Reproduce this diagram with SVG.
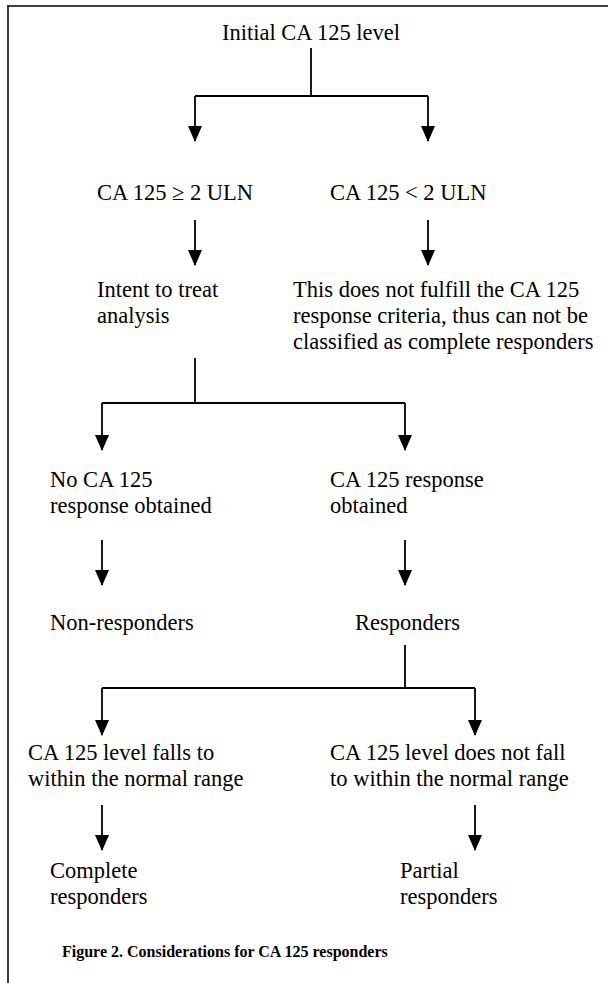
<svg xmlns="http://www.w3.org/2000/svg" width="608" height="983" viewBox="0 0 608 983">
<defs>
<style>
.t{font-family:"Liberation Serif","Times New Roman",serif;font-size:22.5px;fill:#000}
.cap{font-family:"Liberation Serif","Times New Roman",serif;font-size:16px;font-weight:bold;fill:#000}
.ln{stroke:#000;stroke-width:1.8;fill:none}
.ar{stroke:#000;stroke-width:1.8;fill:none;marker-end:url(#ah)}
</style>
<marker id="ah" viewBox="0 0 16 14" refX="15" refY="7" markerWidth="16" markerHeight="14" markerUnits="userSpaceOnUse" orient="auto">
<path d="M0,0 L16,7 L0,14 z" fill="#000"/>
</marker>
</defs>
<rect width="608" height="983" fill="#fff"/>
<g id="frame"><path d="M7,6 H608 M8,6 V983" stroke="#000" stroke-width="1.5" fill="none"/></g>
<g id="connectors">
<path class="ln" d="M311,48 V96 M195,96 H428"/>
<path class="ar" d="M195,96 V141"/>
<path class="ar" d="M428,96 V141"/>
<path class="ar" d="M195,220 V265"/>
<path class="ar" d="M428,220 V265"/>
<path class="ln" d="M195,358 V403 M102,403 H405"/>
<path class="ar" d="M102,403 V450"/>
<path class="ar" d="M405,403 V450"/>
<path class="ar" d="M102,540 V585"/>
<path class="ar" d="M405,540 V585"/>
<path class="ln" d="M405,645 V688 M102,688 H475"/>
<path class="ar" d="M102,688 V735"/>
<path class="ar" d="M475,688 V735"/>
<path class="ar" d="M102,805 V850"/>
<path class="ar" d="M475,805 V850"/>
</g>
<g id="n-initial"><text class="t" x="311" y="40" text-anchor="middle">Initial CA 125 level</text></g>
<g id="n-ge2"><text class="t" x="97" y="200">CA 125 ≥ 2 ULN</text></g>
<g id="n-lt2"><text class="t" x="330" y="200">CA 125 &lt; 2 ULN</text></g>
<g id="n-itt"><text class="t" x="97" y="297">Intent to treat</text><text class="t" x="97" y="323">analysis</text></g>
<g id="n-notfulfill"><text class="t" x="293" y="297">This does not fulfill the CA 125</text><text class="t" x="293" y="323">response criteria, thus can not be</text><text class="t" x="293" y="349">classified as complete responders</text></g>
<g id="n-noresp"><text class="t" x="50" y="487">No CA 125</text><text class="t" x="50" y="513">response obtained</text></g>
<g id="n-resp"><text class="t" x="330" y="487">CA 125 response</text><text class="t" x="330" y="513">obtained</text></g>
<g id="n-nonresponders"><text class="t" x="50" y="630">Non-responders</text></g>
<g id="n-responders"><text class="t" x="355" y="630">Responders</text></g>
<g id="n-falls"><text class="t" x="28" y="760">CA 125 level falls to</text><text class="t" x="28" y="786">within the normal range</text></g>
<g id="n-notfall"><text class="t" x="330" y="760">CA 125 level does not fall</text><text class="t" x="330" y="786">to within the normal range</text></g>
<g id="n-complete"><text class="t" x="50" y="878">Complete</text><text class="t" x="50" y="904">responders</text></g>
<g id="n-partial"><text class="t" x="400" y="878">Partial</text><text class="t" x="400" y="904">responders</text></g>
<g id="caption"><text class="cap" x="62" y="957">Figure 2. Considerations for CA 125 responders</text></g>
</svg>
